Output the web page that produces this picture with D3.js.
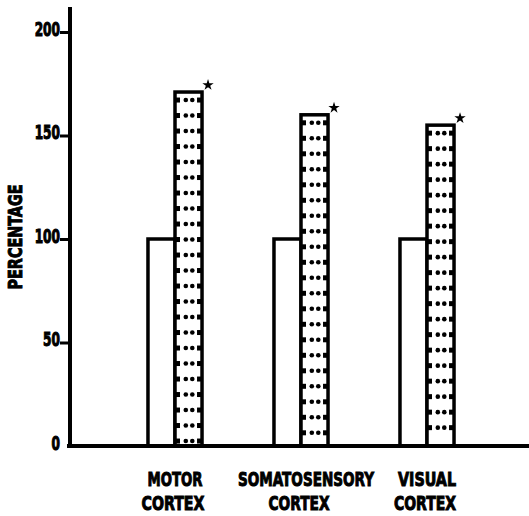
<!DOCTYPE html>
<html>
<head>
<meta charset="utf-8">
<script src="https://cdn.jsdelivr.net/npm/d3@7"></script>
<style>
  body { margin: 0; background: #fff; }
  svg { display: block; }
  .lbl { font-family: "DejaVu Sans Condensed", "DejaVu Sans", sans-serif; font-weight: bold; fill: #000; stroke: #000; stroke-width: 0.7px; }
</style>
</head>
<body>
<svg id="chart" width="529" height="516"></svg>
<script>
// data
var regions = ["MOTOR|CORTEX", "SOMATOSENSORY|CORTEX", "VISUAL|CORTEX"];
var series = ["control", "treated"];
var control = [100, 100, 100];
var treated = [171, 160, 155];
var significant = [true, true, true];
var yTicks = [0, 50, 100, 150, 200];

var svg = d3.select("#chart");
var baseY = 446, axisX = 70;

var y = d3.scaleLinear().domain([0, 200]).range([baseY, 32]);
var x0 = d3.scaleBand().domain(regions).range([112, 490]).paddingInner(0.571).paddingOuter(0.2855);
var x1 = d3.scaleBand().domain(series).range([0, x0.bandwidth()]);

var data = regions.map(function (r, i) {
  return { region: r, values: [ { s: "control", v: control[i] }, { s: "treated", v: treated[i], star: significant[i] } ] };
});

// y axis line
svg.append("line").attr("x1", axisX).attr("x2", axisX).attr("y1", 7).attr("y2", baseY + 2)
  .attr("stroke", "#000").attr("stroke-width", 4);

// y ticks (tall condensed lettering: stretch vertically)
var yAxis = svg.append("g").attr("transform", "translate(" + axisX + ",0)")
  .call(d3.axisLeft(y).tickValues(yTicks).tickSize(10).tickFormat(d3.format("d")));
yAxis.select(".domain").remove();
yAxis.selectAll(".tick line").attr("stroke", "#000").attr("stroke-width", 3)
  .attr("x2", function (d) { return d === 0 ? 0 : -10; });
yAxis.selectAll(".tick text").attr("class", "lbl").attr("font-size", 13.5)
  .attr("x", 0).attr("dy", 0).attr("text-anchor", "end")
  .attr("transform", "translate(-10,3) scale(1,1.45)");

svg.append("text").attr("class", "lbl").attr("font-size", 15)
  .attr("transform", "translate(22,237) rotate(-90) scale(1,1.35)").attr("text-anchor", "middle")
  .attr("textLength", 105).attr("lengthAdjust", "spacingAndGlyphs").text("PERCENTAGE");

// bars
var groups = svg.selectAll(".grp").data(data).enter().append("g")
  .attr("transform", function (d) { return "translate(" + x0(d.region) + ",0)"; });

groups.selectAll("rect").data(function (d) { return d.values; }).enter().append("rect")
  .attr("x", function (d) { return x1(d.s); })
  .attr("y", function (d) { return y(d.v); })
  .attr("width", x1.bandwidth())
  .attr("height", function (d) { return baseY - y(d.v); })
  .attr("fill", "#fff").attr("stroke", "#000").attr("stroke-width", 3.5);

// dotted hatch inside treated bars
groups.each(function (d) {
  var t = d.values[1];
  var bx = x1(t.s), bw = x1.bandwidth();
  var rows = d3.range(y(t.v) + 8, baseY - 3, 15.5);
  var g = d3.select(this);
  rows.forEach(function (ry) {
    g.append("rect").attr("x", bx).attr("y", ry - 2.5).attr("width", 5).attr("height", 5).attr("fill", "#000");
    g.append("rect").attr("x", bx + bw - 5).attr("y", ry - 2.5).attr("width", 5).attr("height", 5).attr("fill", "#000");
    [bw * 0.4, bw * 0.64].forEach(function (dx) {
      g.append("circle").attr("cx", bx + dx).attr("cy", ry).attr("r", 2.3).attr("fill", "#000");
    });
  });
  if (t.star) {
    g.append("path").attr("d", d3.symbol().type(d3.symbolStar).size(40))
      .attr("transform", "translate(" + (bx + bw + 6) + "," + (y(t.v) - 7) + ")").attr("fill", "#000");
  }
});

// baseline
svg.append("line").attr("x1", axisX - 3).attr("x2", 529).attr("y1", baseY).attr("y2", baseY)
  .attr("stroke", "#000").attr("stroke-width", 4);

// category labels
var topLen = [55, 136, 58], botLen = [63, 61, 62];
var cx = function (d) { return x0(d) + x0.bandwidth() / 2; };
svg.selectAll(".cat1").data(regions).enter().append("text").attr("class", "lbl")
  .attr("font-size", 14.5).attr("text-anchor", "middle")
  .attr("transform", function (d, i) { return "translate(" + (cx(d) + (i === 1 ? 5 : 0)) + ",486) scale(1,1.4)"; })
  .attr("textLength", function (d, i) { return topLen[i]; }).attr("lengthAdjust", "spacingAndGlyphs")
  .text(function (d) { return d.split("|")[0]; });
svg.selectAll(".cat2").data(regions).enter().append("text").attr("class", "lbl")
  .attr("font-size", 14.5).attr("text-anchor", "middle")
  .attr("transform", function (d) { return "translate(" + (cx(d) - 2) + ",510) scale(1,1.4)"; })
  .attr("textLength", function (d, i) { return botLen[i]; }).attr("lengthAdjust", "spacingAndGlyphs")
  .text(function (d) { return d.split("|")[1]; });
</script>
</body>
</html>
